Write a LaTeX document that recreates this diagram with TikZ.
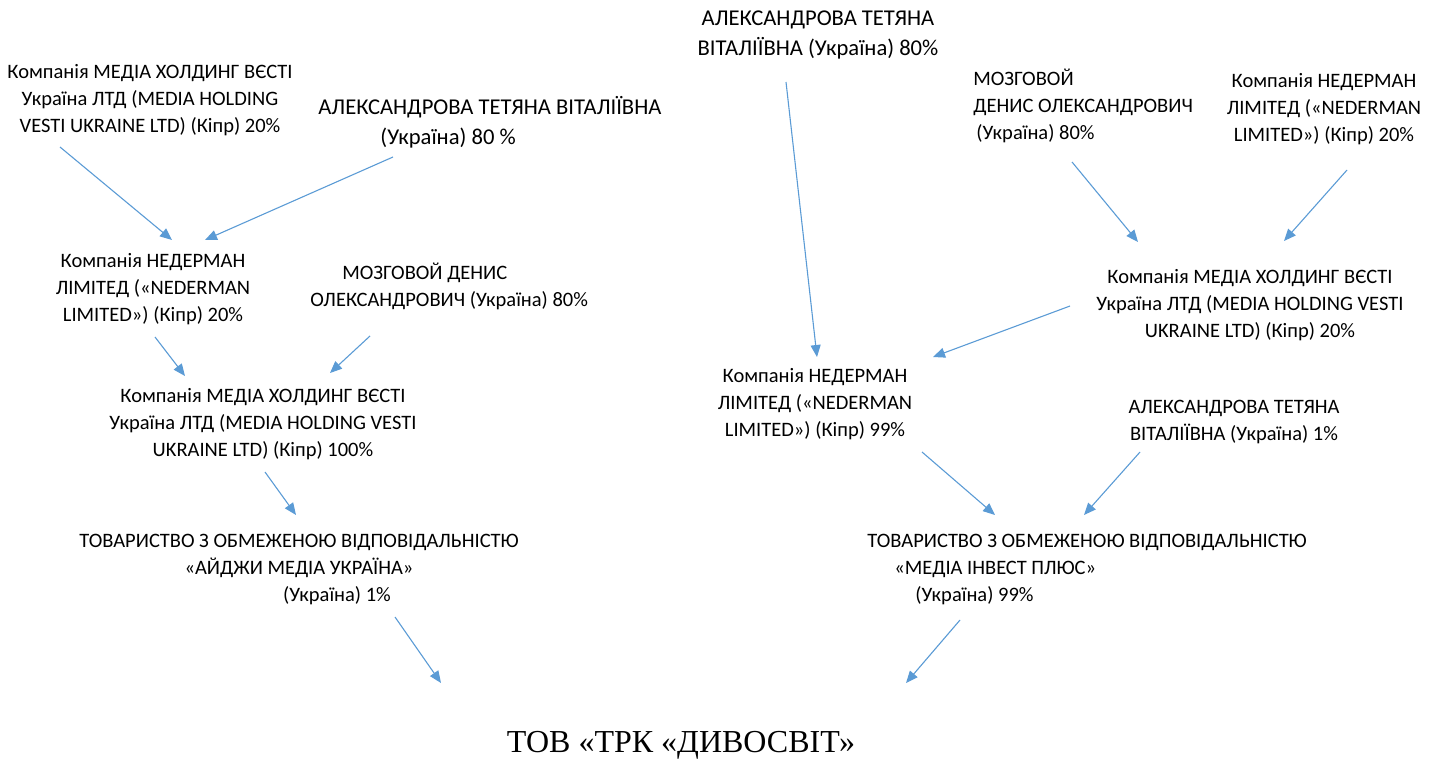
\documentclass[tikz,border=0pt]{standalone}
\usepackage{fontspec}
\setmainfont{Carlito}
\newfontfamily\timesfont{Liberation Serif}
\usepackage{xcolor}
\usetikzlibrary{arrows.meta}
\definecolor{arrowblue}{HTML}{5B9BD5}

\begin{document}
\begin{tikzpicture}[x=0.5pt, y=-0.5pt,
  owner/.style={inner sep=0pt, align=center, font=\fontsize{10.25pt}{13.5pt}\selectfont},
  ownerbig/.style={owner, font=\fontsize{11.3pt}{15pt}\selectfont},
  ownerleft/.style={owner, align=left, anchor=west},
  link/.style={draw=arrowblue, line width=0.55pt, -{Triangle[length=6pt, width=5pt]}}]
  \useasboundingbox (0,0) rectangle (1443,765);

  % left chain
  \node[owner] (media_top_l) at (150,100) {Компанія МЕДІА ХОЛДИНГ ВЄСТІ\\Україна ЛТД (MEDIA HOLDING\\VESTI UKRAINE LTD) (Кіпр) 20\%};
  \node[ownerbig, align=left, anchor=west] (alex_top_l) at (318,122) {АЛЕКСАНДРОВА ТЕТЯНА ВІТАЛІЇВНА\\\hspace*{31pt}(Україна) 80 \%};
  \node[owner] (neder_l) at (153,289) {Компанія НЕДЕРМАН\\ЛІМІТЕД («NEDERMAN\\LIMITED») (Кіпр) 20\%};
  \node[ownerleft] (mozg_l) at (310,286) {\hspace*{16pt}МОЗГОВОЙ ДЕНИС\\ОЛЕКСАНДРОВИЧ (Україна) 80\%};
  \node[owner] (media_l) at (263,424) {Компанія МЕДІА ХОЛДИНГ ВЄСТІ\\Україна ЛТД (MEDIA HOLDING VESTI\\UKRAINE LTD) (Кіпр) 100\%};
  \node[owner] (aidzhi) at (299,569) {ТОВАРИСТВО З ОБМЕЖЕНОЮ ВІДПОВІДАЛЬНІСТЮ\\«АЙДЖИ МЕДІА УКРАЇНА»\\\hspace*{38pt}(Україна) 1\%};

  % right chain
  \node[ownerbig] (alex_top_r) at (818,35) {АЛЕКСАНДРОВА ТЕТЯНА\\ВІТАЛІЇВНА (Україна) 80\%};
  \node[ownerleft] (mozg_r) at (973,106) {МОЗГОВОЙ\\ДЕНИС ОЛЕКСАНДРОВИЧ\\\hspace*{1.5pt}(Україна) 80\%};
  \node[owner] (neder_top_r) at (1324,109) {Компанія НЕДЕРМАН\\ЛІМІТЕД («NEDERMAN\\LIMITED») (Кіпр) 20\%};
  \node[owner] (media_r) at (1250,305) {Компанія МЕДІА ХОЛДИНГ ВЄСТІ\\Україна ЛТД (MEDIA HOLDING VESTI\\UKRAINE LTD) (Кіпр) 20\%};
  \node[owner] (neder_r) at (815,404) {Компанія НЕДЕРМАН\\ЛІМІТЕД («NEDERMAN\\LIMITED») (Кіпр) 99\%};
  \node[owner] (alex_r) at (1234,422) {АЛЕКСАНДРОВА ТЕТЯНА\\ВІТАЛІЇВНА (Україна) 1\%};
  \node[ownerleft] (invest) at (867,569) {ТОВАРИСТВО З ОБМЕЖЕНОЮ ВІДПОВІДАЛЬНІСТЮ\\\hspace*{13.5pt}«МЕДІА ІНВЕСТ ПЛЮС»\\\hspace*{24pt}(Україна) 99\%};

  \node[inner sep=0pt, font=\timesfont\fontsize{16pt}{20pt}\selectfont] (tov) at (681,745) {ТОВ «ТРК «ДИВОСВІТ»};

  % arrow ends
  \coordinate (a1s) at (60,147);   \coordinate (a1e) at (172,240);
  \coordinate (a2s) at (393,157);  \coordinate (a2e) at (205,240);
  \coordinate (a3s) at (155,337);  \coordinate (a3e) at (185,376);
  \coordinate (a4s) at (370,336);  \coordinate (a4e) at (330,373);
  \coordinate (a5s) at (265,472);  \coordinate (a5e) at (296,515);
  \coordinate (a6s) at (395,617);  \coordinate (a6e) at (441,683);
  \coordinate (b1s) at (786,82);   \coordinate (b1e) at (817,357);
  \coordinate (b2s) at (1072,162); \coordinate (b2e) at (1138,242);
  \coordinate (b3s) at (1347,170); \coordinate (b3e) at (1284,241);
  \coordinate (b4s) at (1070,306); \coordinate (b4e) at (933,357);
  \coordinate (b5s) at (922,452);  \coordinate (b5e) at (995,515);
  \coordinate (b6s) at (1140,452); \coordinate (b6e) at (1084,515);
  \coordinate (b7s) at (960,620);  \coordinate (b7e) at (906,683);

  \draw[link] (a1s) -- (a1e);
  \draw[link] (a2s) -- (a2e);
  \draw[link] (a3s) -- (a3e);
  \draw[link] (a4s) -- (a4e);
  \draw[link] (a5s) -- (a5e);
  \draw[link] (a6s) -- (a6e);
  \draw[link] (b1s) -- (b1e);
  \draw[link] (b2s) -- (b2e);
  \draw[link] (b3s) -- (b3e);
  \draw[link] (b4s) -- (b4e);
  \draw[link] (b5s) -- (b5e);
  \draw[link] (b6s) -- (b6e);
  \draw[link] (b7s) -- (b7e);
\end{tikzpicture}
\end{document}
